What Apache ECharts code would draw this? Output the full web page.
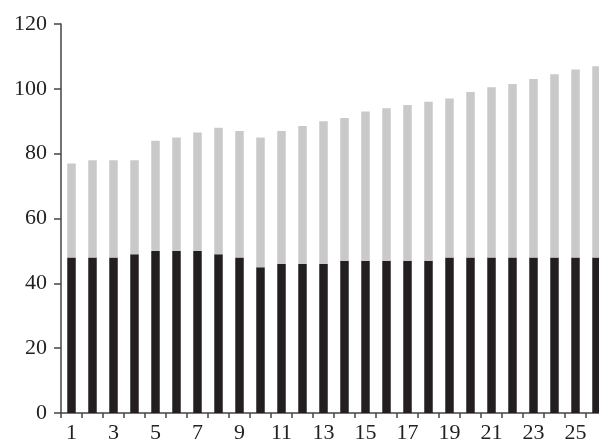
<!DOCTYPE html>
<html>
<head>
<meta charset="utf-8">
<script src="https://cdn.jsdelivr.net/npm/echarts@6/dist/echarts.min.js"></script>
<style>html,body{margin:0;padding:0;background:#fff;}#c{width:599px;height:441px;}</style>
</head>
<body>
<div id="c"></div>
<script>
var categories = ['1','2','3','4','5','6','7','8','9','10','11','12','13','14','15','16','17','18','19','20','21','22','23','24','25','26'];
var blackValues = [48,48,48,49,50,50,50,49,48,45,46,46,46,47,47,47,47,47,48,48,48,48,48,48,48,48];
var totalValues = [77,78,78,78,84,85,86.5,88,87,85,87,88.5,90,91,93,94,95,96,97,99,100.5,101.5,103,104.5,106,107];
var grayValues = totalValues.map(function (t, i) { return +(t - blackValues[i]).toFixed(2); });
var yTicks = [0,20,40,60,80,100,120];

var chart = echarts.init(document.getElementById('c'), null, {renderer: 'canvas'});
chart.setOption({
  animation: false,
  backgroundColor: '#ffffff',
  grid: {left: 61, top: 24, width: 546, height: 389, containLabel: false, outerBoundsMode: 'none'},
  xAxis: {
    type: 'category',
    data: categories,
    boundaryGap: true,
    axisLine: {lineStyle: {color: '#444', width: 1.5}},
    axisTick: {show: true, interval: 0, length: 5, lineStyle: {color: '#444', width: 1.5}},
    axisLabel: {interval: 1, margin: 9, fontFamily: 'Liberation Serif', fontSize: 22, color: '#222'},
    splitLine: {show: false}
  },
  yAxis: {
    type: 'value',
    min: yTicks[0],
    max: yTicks[yTicks.length - 1],
    interval: 20,
    axisLine: {show: true, lineStyle: {color: '#444', width: 1.5}},
    axisTick: {show: true, length: 7, lineStyle: {color: '#444', width: 1.5}},
    axisLabel: {margin: 14, fontFamily: 'Liberation Serif', fontSize: 22, color: '#222'},
    splitLine: {show: false}
  },
  series: [
    {
      type: 'bar', stack: 'a', data: blackValues, barWidth: 8.5,
      itemStyle: {color: '#231f20'}
    },
    {
      type: 'bar', stack: 'a', data: grayValues, barWidth: 8.5,
      itemStyle: {color: '#c9c9c9'}
    }
  ]
});
</script>
</body>
</html>
